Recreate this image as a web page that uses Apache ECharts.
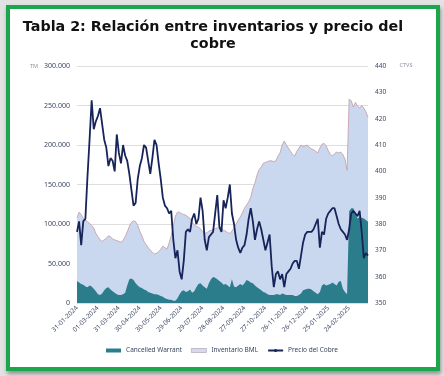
<!DOCTYPE html>
<html>
<head>
<meta charset="utf-8">
<script src="https://cdn.jsdelivr.net/npm/echarts@6/dist/echarts.min.js"></script>
<style>
  html, body { margin: 0; padding: 0; background: #e2e2e2; }
  #marco {
    position: absolute; left: 6px; top: 5px; width: 434px; height: 366px;
    box-sizing: border-box; border: 4px solid #1ba64c; background: #fff;
    box-shadow: 1px 3px 4px rgba(0, 0, 0, 0.35);
  }
  #main { position: absolute; left: 0; top: 0; width: 444px; height: 376px; }
</style>
</head>
<body>
<div id="marco"></div>
<div id="main"></div>
<script>
// fechas cada 3 dias desde 31-01-2024 (etiqueta cada 30 dias)
var fechas = [];
var inicio = Date.UTC(2024, 0, 31);
for (var i = 0; i < 140; i++) {
  var d = new Date(inicio + i * 3 * 86400000);
  var dd = ('0' + d.getUTCDate()).slice(-2);
  var mm = ('0' + (d.getUTCMonth() + 1)).slice(-2);
  fechas.push(dd + '-' + mm + '-' + d.getUTCFullYear());
}

// miles de TM
var cancelledWarrant = [
  28, 26, 24, 23, 21, 20, 22, 21, 18, 15,
  11, 10, 12, 16, 19, 20, 17, 15, 13, 11,
  10, 10, 11, 13, 22, 30, 31, 29, 25, 22,
  20, 19, 17, 16, 14, 13, 12, 11, 11, 10,
  9, 8, 6, 5, 4, 4, 3, 3, 6, 11,
  15, 16, 14, 15, 17, 13, 15, 20, 24, 25,
  22, 20, 18, 25, 30, 33, 32, 30, 28, 26,
  23, 24, 22, 20, 30, 21, 20, 22, 24, 22,
  25, 29, 28, 26, 25, 22, 20, 18, 16, 14,
  13, 11, 10, 10, 10, 11, 11, 10, 12, 11,
  10, 10, 10, 10, 9, 9, 10, 12, 16, 17,
  18, 18, 17, 15, 13, 11, 14, 22, 24, 22,
  23, 24, 26, 24, 22, 27, 28, 18, 14, 11,
  116, 120, 120, 113, 107, 109, 108, 107, 105, 103
];

var inventarioBML = [
  108, 115, 112, 107, 105, 103, 101, 98, 95, 88,
  84, 80, 78, 80, 82, 85, 84, 81, 80, 79,
  78, 77, 79, 84, 90, 97, 102, 104, 103, 98,
  91, 85, 78, 74, 70, 67, 64, 62, 63, 65,
  68, 72, 70, 68, 76, 85, 98, 110, 115, 115,
  113, 112, 111, 109, 107, 102, 99, 97, 96, 94,
  90, 88, 89, 91, 92, 93, 94, 95, 95, 94,
  92, 91, 89, 88, 91, 95, 100, 105, 109, 114,
  120, 124, 128, 134, 145, 152, 162, 169, 172, 177,
  178, 179, 180, 180, 179, 180, 186, 190, 200, 205,
  200, 196, 192, 188, 186, 192, 196, 200, 198, 199,
  200, 197, 195, 194, 192, 190, 196, 201, 202, 199,
  193, 188, 186, 189, 191, 190, 191, 188, 182, 168,
  258, 256, 248, 254, 249, 247, 250, 247, 242, 235
];

// centavos
var precioCobre = [
  377, 381, 372, 381, 382, 398, 412, 427, 416, 419,
  421, 424, 418, 412, 409, 402, 405, 404, 400, 414,
  407, 403, 410, 406, 404, 399, 393, 387, 388, 397,
  402, 405, 410, 409, 404, 399, 405, 412, 410, 403,
  397, 390, 387, 386, 384, 385, 374, 367, 370, 362,
  359, 366, 377, 378, 377, 382, 384, 380, 382, 390,
  385, 374, 370, 375, 376, 377, 384, 391, 379, 377,
  389, 386, 390, 395, 384, 380, 374, 371, 369, 371,
  372, 376, 382, 386, 381, 374, 378, 381, 378, 374,
  370, 373, 376, 364, 356, 361, 362, 359, 361, 356,
  361, 362, 363, 365, 366, 366, 363, 368, 373, 376,
  377, 377, 377, 378, 380, 382, 371, 377, 376, 382,
  384, 385, 386, 386, 383, 380, 378, 377, 376, 374,
  378, 384, 385, 384, 383, 385, 377, 367, 369, 368
];

var colorTexto = '#3b4660';
var chart = echarts.init(document.getElementById('main'));

var option = {
  backgroundColor: 'transparent',
  animation: false,
  textStyle: { fontFamily: '"Noto Sans", sans-serif' },
  graphic: [
    { type: 'text', x: 213, y: 27, style: { text: 'Tabla 2: Relación entre inventarios y precio del', align: 'center', verticalAlign: 'middle', font: 'bold 14.3px "DejaVu Sans"', fill: '#111' } },
    { type: 'text', x: 213, y: 44.6, style: { text: 'cobre', align: 'center', verticalAlign: 'middle', font: 'bold 14.3px "DejaVu Sans"', fill: '#111' } },
    { type: 'text', x: 34, y: 66.5, style: { text: 'TM', align: 'center', verticalAlign: 'middle', font: '5.5px "Noto Sans"', fill: '#8c919a' } },
    { type: 'text', x: 406, y: 65.5, style: { text: 'CTVS', align: 'center', verticalAlign: 'middle', font: '5.5px "Noto Sans"', fill: '#8c919a' } }
  ],
  legend: {
    left: 'center',
    top: 342,
    itemWidth: 15,
    itemHeight: 4,
    itemGap: 9,
    textStyle: { fontSize: 6.5, color: colorTexto },
    data: [
      { name: 'Cancelled Warrant', icon: 'rect', itemStyle: { color: '#2c7d8c' } },
      { name: 'Inventario BML', icon: 'rect', itemStyle: { color: '#d8d8ec', borderColor: '#a99cb2', borderWidth: 0.6 } },
      { name: 'Precio del Cobre' }
    ]
  },
  grid: { left: 77, right: 76, top: 66, bottom: 73 },
  xAxis: {
    type: 'category',
    data: fechas,
    boundaryGap: false,
    axisLine: { show: false },
    axisTick: { show: false },
    axisLabel: { interval: 9, rotate: 45, fontSize: 6.5, color: colorTexto, margin: 4 }
  },
  yAxis: [
    {
      type: 'value', min: 0, max: 300, interval: 50,
      axisLine: { show: false }, axisTick: { show: false },
      axisLabel: {
        fontSize: 7, color: colorTexto, margin: 7,
        formatter: function (v) { return v === 0 ? '0' : v + '.000'; }
      },
      splitLine: { lineStyle: { color: '#dedede', width: 1 } }
    },
    {
      type: 'value', min: 350, max: 440, interval: 10, position: 'right',
      axisLine: { show: false }, axisTick: { show: false },
      axisLabel: { fontSize: 6.5, color: colorTexto, margin: 7 },
      splitLine: { show: false }
    }
  ],
  series: [
    {
      name: 'Inventario BML', type: 'line', data: inventarioBML, symbol: 'none', z: 1,
      lineStyle: { color: '#c29aa2', width: 0.8 },
      itemStyle: { color: '#c9d7ef' },
      areaStyle: { color: '#c9d7ef', opacity: 1 }
    },
    {
      name: 'Cancelled Warrant', type: 'line', data: cancelledWarrant, symbol: 'none', z: 2,
      lineStyle: { width: 0 },
      itemStyle: { color: '#2c7d8c' },
      areaStyle: { color: '#2c7d8c', opacity: 1 }
    },
    {
      name: 'Precio del Cobre', type: 'line', yAxisIndex: 1, data: precioCobre, symbol: 'none', z: 3,
      lineStyle: { color: '#16245a', width: 1.8 },
      itemStyle: { color: '#16245a' }
    }
  ]
};

chart.setOption(option);
</script>
</body>
</html>
